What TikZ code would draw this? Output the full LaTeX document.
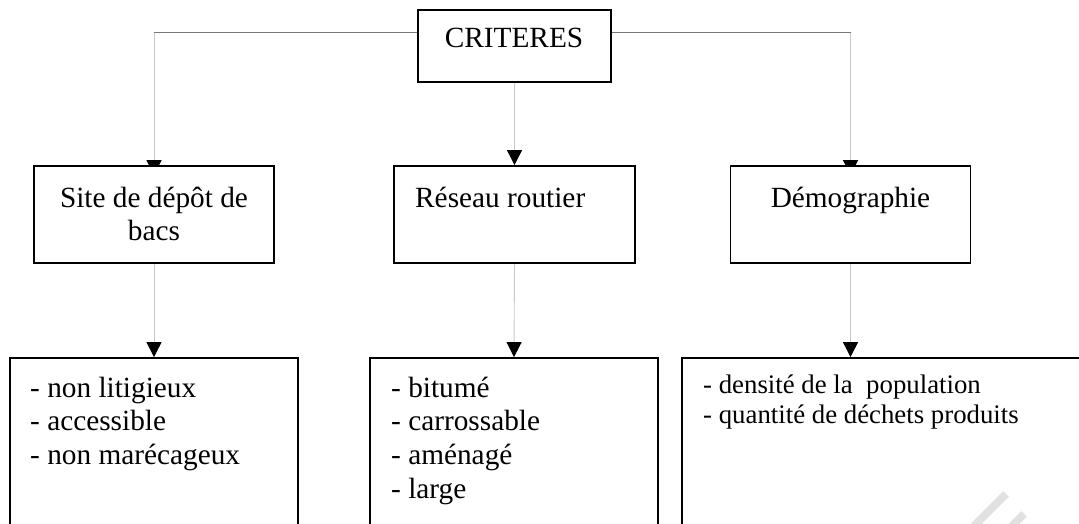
\documentclass[tikz,border=0pt]{standalone}
\usepackage{fontspec}
\setmainfont{Liberation Serif}
\usetikzlibrary{arrows.meta,backgrounds}
\begin{document}
\begin{tikzpicture}[x=1pt,y=-1pt,
  box/.style={draw=black,line width=1.8pt,fill=white,inner sep=0pt},
  lbl/.style={inner sep=0pt,font=\fontsize{29.3}{33.7}\selectfont},
  lblsmall/.style={inner sep=0pt,font=\fontsize{26.8}{30.9}\selectfont},
  hline/.style={draw={rgb,255:red,120;green,120;blue,120},line width=1pt},
  vline/.style={draw={rgb,255:red,200;green,200;blue,200},line width=0.9pt,
    -{Triangle[width=15pt,length=15pt,color=black,fill=black]}},
  mark wm/.style={draw={rgb,255:red,225;green,225;blue,225},line width=8pt}]
\useasboundingbox (0,0) rectangle (1079,524);
\clip (0,0) rectangle (1079,524);

% boxes
\node[box,minimum width=193pt,minimum height=72pt] (crit) at (514.5,46) {};
\node[box,minimum width=240pt,minimum height=97pt] (site) at (154,214.5) {};
\node[box,minimum width=241pt,minimum height=97pt] (reseau) at (514.5,214.5) {};
\node[box,minimum width=240pt,minimum height=97pt] (demo) at (850.5,214.5) {};
\node[box,minimum width=288pt,minimum height=202pt] (b1) at (154,459) {};
\node[box,minimum width=288pt,minimum height=202pt] (b2) at (514,459) {};
\node[box,minimum width=428pt,minimum height=202pt] (b3) at (896,459) {};

% labels
\node[lbl,anchor=base] (tcrit) at (514,48) {CRITERES};
\node[lbl,anchor=base] (tsite) at (154,207)
  {\begin{tabular}[t]{@{}c@{}}Site de dépôt de\\ bacs\end{tabular}};
\node[lbl,anchor=base west] (treseau) at (415,207) {Réseau routier};
\node[lbl,anchor=base] (tdemo) at (850.5,207) {Démographie};
\node[lbl,anchor=base west] (tb1) at (30,397)
  {\begin{tabular}[t]{@{}l@{}}- non litigieux\\ - accessible\\ - non marécageux\end{tabular}};
\node[lbl,anchor=base west] (tb2) at (391,397)
  {\begin{tabular}[t]{@{}l@{}}- bitumé\\ - carrossable\\ - aménagé\\ - large\end{tabular}};
\node[lblsmall,anchor=base west] (tb3) at (703,393)
  {\begin{tabular}[t]{@{}l@{}}- densité de la\ \ population\\ - quantité de déchets produits\end{tabular}};

% connectors, kept behind the boxes
\coordinate (jl) at (154,33);
\coordinate (jr) at (850.5,33);
\begin{scope}[on background layer]
  \draw[hline] (crit.west |- jl) -- (jl);
  \draw[hline] (crit.east |- jr) -- (jr);
  \draw[vline] (jl) -- ([yshift=-10pt]site.north);
  \draw[vline] (jr) -- ([yshift=-10pt]demo.north);
  \draw[vline] (crit.south) -- (reseau.north);
  \draw[vline] (site.south) -- (b1.north);
  \draw[vline] (reseau.south) -- (b2.north);
  \draw[vline] (demo.south) -- (demo.south |- b3.north);
\end{scope}

% faint diagonal marks, lower right
\draw[mark wm] (1006,494) -- (974,526);
\draw[mark wm] (1024,514) -- (1012,526);
\end{tikzpicture}
\end{document}
